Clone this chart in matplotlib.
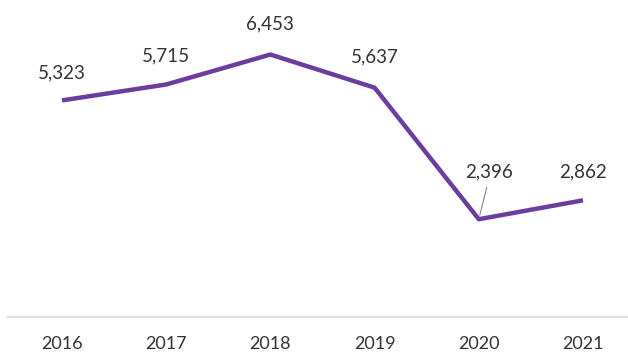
"""
    Yearly totals line chart
"""

from matplotlib import pyplot as plt

years = [2016, 2017, 2018, 2019, 2020, 2021]
values = [5323, 5715, 6453, 5637, 2396, 2862]
year_labels = ["2016", "2017", "2018", "2019", "2020", "2021"]

# label offsets in pixels (dx, dy) from the point
offsets = [(0, 28), (0, 29), (0, 31), (0, 31), (10, 47), (0, 28)]

plt.rcParams['font.family'] = ['Lato', 'DejaVu Sans']

fig = plt.figure(figsize=(6.28, 3.55), dpi=100)
ax = fig.add_axes([8 / 628, 1 - 316.5 / 355, 620 / 628, 0.8005])

ax.plot(years, values, color="#6a3d9e", linewidth=3.2, solid_capstyle="butt",
        solid_joinstyle="round")

for x, v, (dx, dy) in zip(years, values, offsets):
    ax.annotate(f"{v:,}", (x, v), xytext=(dx, dy), textcoords="offset pixels",
                ha="center", va="center", fontsize=13.5, color="#333333")

# leader line for 2020 label
ax.annotate("", (2020, 2396), xytext=(8, 32), textcoords="offset pixels",
            xycoords="data",
            arrowprops=dict(arrowstyle="-", color="#888888", linewidth=0.8,
                            shrinkA=0, shrinkB=3))

ax.set_xlim(2015.482, 2021.432)
ax.set_ylim(0, 7000)
ax.set_xticks(years)
ax.set_xticklabels(year_labels, fontsize=13, color="#333333")
ax.set_yticks([])
ax.tick_params(axis="x", length=0, pad=14)

for side in ["top", "right", "left"]:
    ax.spines[side].set_visible(False)
ax.spines["bottom"].set_color("#dddddd")
ax.spines["bottom"].set_linewidth(1.5)

plt.savefig("out.png", dpi=100)
